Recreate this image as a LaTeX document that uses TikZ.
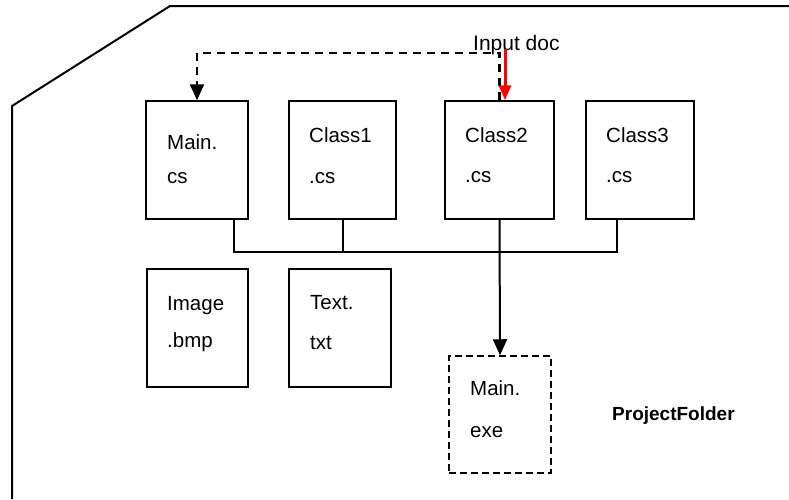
\documentclass[tikz,border=0pt]{standalone}
\usepackage{fontspec}
\setmainfont{Liberation Sans}
\usetikzlibrary{arrows.meta}
\begin{document}
\begin{tikzpicture}[x=1pt,y=-1pt,
  filebox/.style={draw,line width=1.5pt,inner sep=0pt,minimum height=118pt},
  dashbox/.style={draw,line width=1.5pt,dash pattern=on 7pt off 4pt,inner sep=0pt,minimum height=117pt},
  lbl/.style={anchor=base west,inner sep=0pt,font=\fontsize{20.5}{24}\selectfont},
  conn/.style={line width=2pt},
  tip/.style={-{Triangle[length=16pt,width=14pt]}},
  dashline/.style={line width=2.2pt,dash pattern=on 8pt off 6pt}]
\useasboundingbox (0,0) rectangle (789,499);
% folder outline
\draw[line width=2pt] (12,499) -- (12,106) -- (170,6) -- (789,6);
% boxes
\node[filebox,minimum width=102pt] (main) at (197,160) {};
\node[filebox,minimum width=107pt] (class1) at (342.5,160) {};
\node[filebox,minimum width=109pt] (class2) at (499.5,160) {};
\node[filebox,minimum width=108pt] (class3) at (640,160) {};
\node[filebox,minimum width=101pt] (image) at (197.5,328) {};
\node[filebox,minimum width=102pt] (text) at (340,328) {};
\node[dashbox,minimum width=102pt] (exe) at (500,414.5) {};
% labels
\node[lbl] (mainA) at (167,149) {Main.};
\node[lbl] (mainB) at (167,183) {cs};
\node[lbl] (c1A) at (309,142) {Class1};
\node[lbl] (c1B) at (309,183) {.cs};
\node[lbl] (c2A) at (465,142) {Class2};
\node[lbl] (c2B) at (465,182) {.cs};
\node[lbl] (c3A) at (606,142) {Class3};
\node[lbl] (c3B) at (606,182) {.cs};
\node[lbl] (imA) at (167,310) {Image};
\node[lbl] (imB) at (167,347) {.bmp};
\node[lbl] (txA) at (310,309) {Text.};
\node[lbl] (txB) at (310,349) {txt};
\node[lbl] (exA) at (470,395) {Main.};
\node[lbl] (exB) at (470,437) {exe};
\node[anchor=base west,inner sep=0pt,font=\fontsize{21}{24}\selectfont] (input) at (473,50) {Input doc};
\node[anchor=base west,inner sep=0pt,font=\fontsize{19}{23}\selectfont\bfseries] (pf) at (612,420) {ProjectFolder};
% bus
\coordinate (b1) at (234,252);
\coordinate (b4) at (617,252);
\draw[conn] (main.south -| b1) -- (b1) -- (b4) -- (class3.south -| b4);
\draw[conn] (class1.south) -- (class1.south |- b1);
\draw[conn,tip] (class2.south) -- (exe.north);
% dashed feedback
\coordinate (dtop) at (0,53);
\draw[dashline,tip] (class2.north) |- (main.north |- dtop) -- (main.north);
% red input arrow
\coordinate (rin) at (505,49);
\draw[red,line width=3pt,-{Triangle[length=15pt,width=12pt]}] (rin) -- (rin |- class2.north);
\end{tikzpicture}
\end{document}
